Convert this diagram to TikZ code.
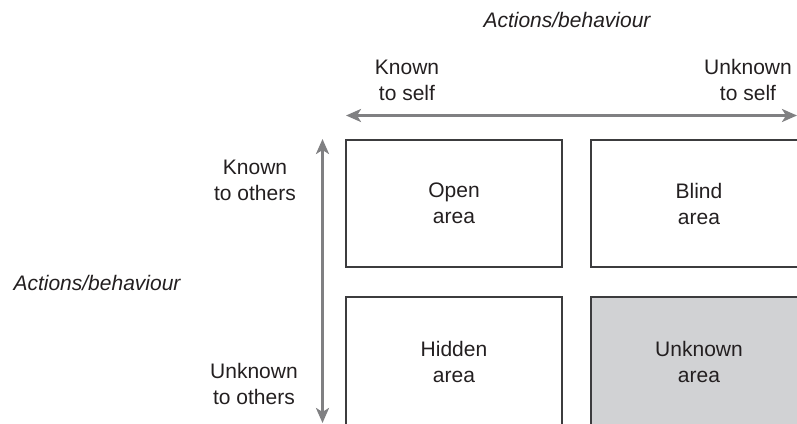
\documentclass[tikz,border=0pt]{standalone}
\usepackage{fontspec}
\setmainfont{Liberation Sans}
\usetikzlibrary{arrows.meta}
\definecolor{axisgray}{RGB}{128,128,130}
\definecolor{boxline}{RGB}{60,60,62}
\definecolor{txt}{RGB}{35,31,32}
\definecolor{shade}{RGB}{209,210,212}
\tikzset{
  lbl/.style={align=center, text=txt, font=\fontsize{21}{26}\selectfont, inner sep=0pt},
  ilbl/.style={lbl, font=\fontsize{21}{26}\selectfont\itshape},
  area/.style={draw=boxline, line width=1.5pt, minimum width=216pt, minimum height=127pt,
     align=center, text=txt, font=\fontsize{21}{26}\selectfont, inner sep=0pt},
  axis/.style={draw=axisgray, line width=3pt, {Stealth[length=15pt,width=13pt,inset=4pt]}-{Stealth[length=15pt,width=13pt,inset=4pt]}}
}
\begin{document}
\begin{tikzpicture}[x=1pt,y=-1pt]
\useasboundingbox (0,0) rectangle (797,423);
\clip (0,0) rectangle (797,423);
% boxes
\node[area] (open) at (454,203.5) {Open\\area};
\node[area] (blind) at (699,203.5) {Blind\\area};
\node[area, minimum height=130pt] (hidden) at (454,362) {Hidden\\area};
\node[area, minimum height=130pt, fill=shade] (unknown) at (699,362) {Unknown\\area};
% axes
\coordinate (hl) at (346,115.5);
\coordinate (hr) at (797,115.5);
\coordinate (vt) at (322.5,139);
\coordinate (vb) at (322.5,423);
\draw[axis] (hl) -- (hr);
\draw[axis] (vt) -- (vb);
% labels
\node[ilbl] (topt) at (567,20) {Actions/behaviour};
\node[lbl] (kself) at (407,80) {Known\\to self};
\node[lbl] (uself) at (748,80) {Unknown\\to self};
\node[lbl] (koth) at (255,180) {Known\\to others};
\node[ilbl] (leftt) at (97,283) {Actions/behaviour};
\node[lbl] (uoth) at (254,384) {Unknown\\to others};
\end{tikzpicture}
\end{document}
